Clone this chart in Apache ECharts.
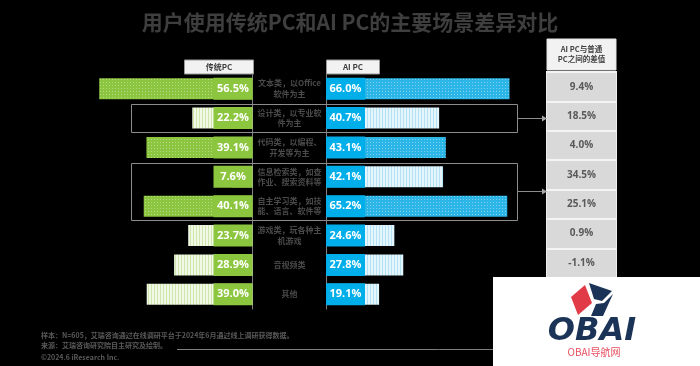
<!DOCTYPE html>
<html><head><meta charset="utf-8">
<script src="https://cdn.jsdelivr.net/npm/echarts@6/dist/echarts.min.js"></script>
<style>html,body{margin:0;padding:0;background:#000;}#c{width:700px;height:366px;}</style>
</head><body><div id="c"></div>
<script>
const categories = [
  '文本类，以Office\n软件为主',
  '设计类，以专业软\n件为主',
  '代码类，以编程、\n开发等为主',
  '信息检索类，如查\n作业、搜索资料等',
  '自主学习类，如技\n能、语言、软件等',
  '游戏类，玩各种主\n机游戏',
  '音视频类',
  '其他'
];
const traditionalPC = [56.5, 22.2, 39.1, 7.6, 40.1, 23.7, 28.9, 39.0];
const aiPC = [66.0, 40.7, 43.1, 42.1, 65.2, 24.6, 27.8, 19.1];
const diffLabels = ['9.4%', '18.5%', '4.0%', '34.5%', '25.1%', '0.9%', '-1.1%', '-19.9%'];

function pattern(bg, fg, kind) {
  const c = document.createElement('canvas');
  c.width = 3; c.height = 3;
  const g = c.getContext('2d');
  g.fillStyle = bg; g.fillRect(0, 0, 3, 3);
  g.fillStyle = fg;
  if (kind === 'dots') g.fillRect(1, 1, 1, 1); else g.fillRect(1, 0, 1, 3);
  return { image: c, repeat: 'repeat' };
}
const greenBright = pattern('#8cc540', '#b4da82', 'dots');
const greenPale = pattern('#f1f8e6', '#cfe7ad', 'stripes');
const blueBright = pattern('#2cb6e7', '#80d2f1', 'dots');
const bluePale = pattern('#e4f5fc', '#b3e2f6', 'stripes');

function topN(arr, n) {
  const s = arr.slice().sort((a, b) => b - a);
  return v => v >= s[n - 1];
}
const isTopL = topN(traditionalPC, 3), isTopR = topN(aiPC, 3);

const FONT = '"Noto Sans CJK SC", "Noto Sans", sans-serif';
const chart = echarts.init(document.getElementById('c'), null, { renderer: 'canvas' });

const boxLabel = {
  show: true, position: 'inside', color: '#fff', fontSize: 11, fontWeight: 'bold',
  fontFamily: '"Open Sans", sans-serif',
  formatter: p => p.value[2].toFixed(1) + '%'
};

const option = {
  backgroundColor: '#000',
  animation: false,
  title: {
    text: '用户使用传统PC和AI PC的主要场景差异对比', left: 'center', top: 7,
    textStyle: { color: '#3e3e3e', fontSize: 21, fontWeight: 'bold', fontFamily: FONT }
  },
  grid: [
    { left: 35.5, right: 447.5, top: 74, bottom: 57 },
    { left: 326, right: 151.6, top: 74, bottom: 57 },
    { left: 547, right: 84, top: 72, bottom: 59, show: true, borderColor: '#eeeeee', borderWidth: 2 }
  ],
  xAxis: [
    { gridIndex: 0, type: 'value', min: 0, max: 80, inverse: true, show: false },
    { gridIndex: 1, type: 'value', min: 0, max: 80, show: false },
    { gridIndex: 2, type: 'value', min: 0, max: 1, show: false }
  ],
  yAxis: [
    { gridIndex: 0, type: 'category', data: categories, inverse: true, position: 'right',
      axisLine: { show: true, lineStyle: { color: '#7f7f7f', width: 1 } }, axisTick: { show: false },
      axisLabel: { margin: 37, align: 'center', color: '#4a4a4a', fontSize: 8, lineHeight: 10.5, fontWeight: 'bold', fontFamily: FONT } },
    { gridIndex: 1, type: 'category', data: categories, inverse: true, position: 'left',
      axisLine: { show: true, lineStyle: { color: '#7f7f7f', width: 1 } }, axisTick: { show: false },
      axisLabel: { show: false } },
    { gridIndex: 2, type: 'category', data: categories, inverse: true, position: 'left',
      axisLine: { show: false }, axisTick: { show: false },
      splitArea: { show: true, areaStyle: { color: ['#d9d9d9'] } },
      splitLine: { show: true, lineStyle: { color: '#f4f4f4', width: 2 } },
      axisLabel: { show: true, margin: -34.5, align: 'center', color: '#595959', fontSize: 10, fontWeight: 'bold',
        fontFamily: '"Open Sans", sans-serif', formatter: (v, i) => diffLabels[i] } }
  ],
  series: [
    { type: 'bar', xAxisIndex: 0, yAxisIndex: 0, barWidth: 21, silent: true,
      data: traditionalPC.map(v => ({ value: v, itemStyle: { color: isTopL(v) ? greenBright : greenPale } })) },
    { type: 'scatter', xAxisIndex: 0, yAxisIndex: 0, silent: true, z: 5,
      symbol: 'rect', symbolSize: [39, 22], symbolOffset: [-19.5, 0],
      itemStyle: { color: '#8cc63f', opacity: 1 }, label: boxLabel,
      data: traditionalPC.map((v, i) => [0, i, v]) },
    { type: 'bar', xAxisIndex: 1, yAxisIndex: 1, barWidth: 21, silent: true,
      data: aiPC.map(v => ({ value: v, itemStyle: { color: isTopR(v) ? blueBright : bluePale } })) },
    { type: 'scatter', xAxisIndex: 1, yAxisIndex: 1, silent: true, z: 5,
      symbol: 'rect', symbolSize: [39, 22], symbolOffset: [19.5, 0],
      itemStyle: { color: '#00aeea', opacity: 1 }, label: boxLabel,
      data: aiPC.map((v, i) => [0, i, v]) }
  ],
  graphic: [
    { type: 'rect', shape: { x: 184.5, y: 60, width: 69, height: 14 }, style: { fill: '#f2f2f2', stroke: '#9a9a9a', lineWidth: 1 } },
    { type: 'text', x: 219, y: 67, style: { text: '传统PC', fill: '#404040', font: 'bold 8px ' + FONT, align: 'center', verticalAlign: 'middle' } },
    { type: 'rect', shape: { x: 326.5, y: 60, width: 53, height: 14 }, style: { fill: '#f2f2f2', stroke: '#9a9a9a', lineWidth: 1 } },
    { type: 'text', x: 353, y: 67, style: { text: 'AI PC', fill: '#404040', font: 'bold 8px ' + FONT, align: 'center', verticalAlign: 'middle' } },
    { type: 'rect', shape: { x: 547, y: 39, width: 69, height: 31 }, style: { fill: '#f2f2f2', stroke: '#e4e4e4', lineWidth: 1 } },
    { type: 'text', x: 581.5, y: 54.5, style: { text: 'AI PC与普通\nPC之间的差值', fill: '#404040', font: 'bold 7.5px ' + FONT, lineHeight: 10, align: 'center', verticalAlign: 'middle' } },
    { type: 'rect', shape: { x: 131.5, y: 104.5, width: 386, height: 28 }, style: { fill: 'none', stroke: '#8c8c8c', lineWidth: 1 }, z: 10 },
    { type: 'rect', shape: { x: 131.5, y: 163.5, width: 386, height: 57 }, style: { fill: 'none', stroke: '#8c8c8c', lineWidth: 1 }, z: 10 },
    { type: 'line', shape: { x1: 518, y1: 118.5, x2: 543, y2: 118.5 }, style: { stroke: '#8c8c8c', lineWidth: 1 }, z: 10 },
    { type: 'polygon', shape: { points: [[542, 115.5], [547, 118.5], [542, 121.5]] }, style: { fill: '#a6a6a6' }, z: 10 },
    { type: 'line', shape: { x1: 518, y1: 191.5, x2: 543, y2: 191.5 }, style: { stroke: '#8c8c8c', lineWidth: 1 }, z: 10 },
    { type: 'polygon', shape: { points: [[542, 188.5], [547, 191.5], [542, 194.5]] }, style: { fill: '#a6a6a6' }, z: 10 },
    { type: 'text', x: 41, y: 335, style: { text: '样本：N=605，艾瑞咨询通过在线调研平台于2024年6月通过线上调研获得数据。', fill: '#5a5a5a', font: 'bold 7px ' + FONT, verticalAlign: 'middle' } },
    { type: 'text', x: 41, y: 345, style: { text: '来源：艾瑞咨询研究院自主研究及绘制。', fill: '#5a5a5a', font: 'bold 7px ' + FONT, verticalAlign: 'middle' } },
    { type: 'text', x: 41, y: 357, style: { text: '©2024.6 iResearch Inc.', fill: '#5a5a5a', font: 'bold 7px ' + FONT, verticalAlign: 'middle' } },
    { type: 'line', shape: { x1: 177, y1: 349.5, x2: 700, y2: 349.5 }, style: { stroke: '#7f7f7f', lineWidth: 1 } },
    { type: 'rect', shape: { x: 493, y: 277, width: 207, height: 89 }, style: { fill: '#ffffff' }, z: 20 },
    { type: 'polygon', shape: { points: [[585, 285], [571, 297], [578, 315], [592, 303]] }, style: { fill: '#e23b48' }, z: 21 },
    { type: 'polygon', shape: { points: [[589, 283], [612, 291], [602, 301], [594, 299]] }, style: { fill: '#1c3358' }, z: 21 },
    { type: 'polygon', shape: { points: [[596, 304], [604, 303], [613, 294], [603, 316], [591, 316]] }, style: { fill: '#1c3358' }, z: 21 },
    { type: 'text', x: 592, y: 332, style: { text: 'OBAI', fill: '#1c3358', font: 'italic bold 32px "DejaVu Sans", sans-serif', align: 'center', verticalAlign: 'middle' }, z: 21 },
    { type: 'text', x: 594, y: 352, style: { text: 'OBAI导航网', fill: '#e8505f', font: '10px ' + FONT, align: 'center', verticalAlign: 'middle' }, z: 21 }
  ]
};
chart.setOption(option);
</script>
</body></html>
